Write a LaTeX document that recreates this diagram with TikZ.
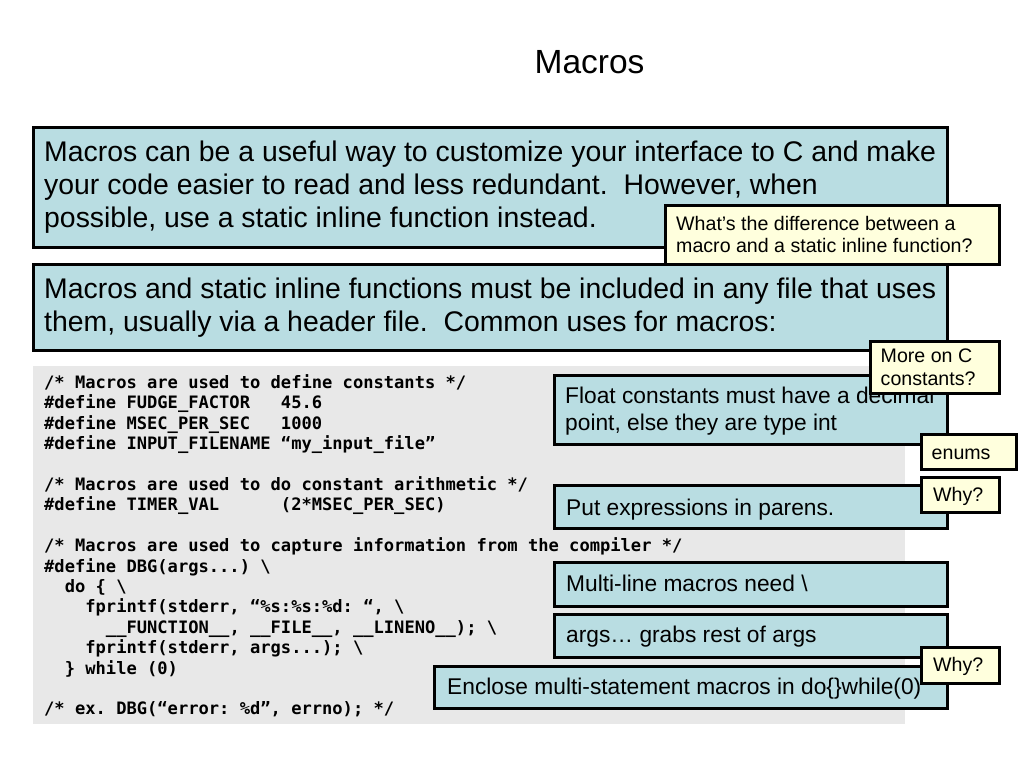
\documentclass[tikz,border=0pt]{standalone}
\usepackage{fontspec}
\setmainfont{Liberation Sans}
\newfontfamily\codefont{DejaVu Sans Mono}
\definecolor{boxblue}{RGB}{185,221,226}
\definecolor{noteyellow}{RGB}{255,255,221}
\definecolor{codegray}{RGB}{232,232,232}
\begin{document}
\begin{tikzpicture}[x=1pt,y=-1pt,
  panel/.style={anchor=north west, inner sep=0pt, outer sep=0pt},
  bluebox/.style={panel, draw=black, line width=3pt, fill=boxblue},
  notebox/.style={panel, draw=black, line width=3pt, fill=noteyellow},
  codebg/.style={panel, fill=codegray},
  titletext/.style={anchor=base, inner sep=0pt, font=\fontsize{33.5}{40}\selectfont},
  bigtext/.style={anchor=base west, inner sep=0pt, font=\fontsize{28.4}{33}\selectfont},
  midtext/.style={anchor=base west, inner sep=0pt, font=\fontsize{22.75}{27}\selectfont},
  smalltext/.style={anchor=base west, inner sep=0pt, font=\fontsize{19.6}{23}\selectfont},
  codeline/.style={anchor=base west, inner sep=0pt, font=\codefont\bfseries\fontsize{17.1}{20.4}\selectfont\frenchspacing}]
\useasboundingbox (0,0) rectangle (1024,768);

\node[titletext] (title) at (589.5,74) {Macros};

% top explanation boxes
\node[bluebox, minimum width=914, minimum height=120] (b1) at (33,127) {};
\node[bigtext] (b1a) at (44,161.5) {Macros can be a useful way to customize your interface to C and make};
\node[bigtext] (b1b) at (44,194.5) {your code easier to read and less redundant.\ \ However, when};
\node[bigtext] (b1c) at (44,227.5) {possible, use a static inline function instead.};

\node[bluebox, minimum width=914, minimum height=86] (b2) at (33,264) {};
\node[bigtext] (b2a) at (44,298.5) {Macros and static inline functions must be included in any file that uses};
\node[bigtext] (b2b) at (44,331.5) {them, usually via a header file.\ \ Common uses for macros:};

\node[notebox, minimum width=334, minimum height=59] (n1) at (665,205) {};
\node[smalltext] (n1a) at (676,230) {What’s the difference between a};
\node[smalltext] (n1b) at (676,252.5) {macro and a static inline function?};

% code panel
\node[codebg, minimum width=872, minimum height=358] (code) at (33,366) {};
\node[codeline] (c1)  at (44,388.5) {/* Macros are used to define constants */};
\node[codeline] (c2)  at (44,408.9) {\#define FUDGE\_FACTOR~~~45.6};
\node[codeline] (c3)  at (44,429.3) {\#define MSEC\_PER\_SEC~~~1000};
\node[codeline] (c4)  at (44,449.7) {\#define INPUT\_FILENAME~“my\_input\_file”};
\node[codeline] (c6)  at (44,490.5) {/* Macros are used to do constant arithmetic */};
\node[codeline] (c7)  at (44,510.9) {\#define TIMER\_VAL~~~~~~(2*MSEC\_PER\_SEC)};
\node[codeline] (c9)  at (44,551.7) {/* Macros are used to capture information from the compiler */};
\node[codeline] (c10) at (44,572.1) {\#define DBG(args...) \textbackslash};
\node[codeline] (c11) at (44,592.5) {~~do \{ \textbackslash};
\node[codeline] (c12) at (44,612.9) {~~~~fprintf(stderr, “\%s:\%s:\%d: “, \textbackslash};
\node[codeline] (c13) at (44,633.3) {~~~~~~\_\_FUNCTION\_\_, \_\_FILE\_\_, \_\_LINENO\_\_); \textbackslash};
\node[codeline] (c14) at (44,653.7) {~~~~fprintf(stderr, args...); \textbackslash};
\node[codeline] (c15) at (44,674.1) {~~\} while (0)};
\node[codeline] (c17) at (44,714.9) {/* ex. DBG(“error: \%d”, errno); */};

% callouts
\node[bluebox, minimum width=393, minimum height=69] (fl) at (554,375) {};
\node[midtext] (fla) at (565,403.5) {Float constants must have a decimal};
\node[midtext] (flb) at (565,430) {point, else they are type int};

\node[notebox, minimum width=129, minimum height=52] (mc) at (870,341) {};
\node[smalltext] (mca) at (880.5,362) {More on C};
\node[smalltext] (mcb) at (880.5,385) {constants?};

\node[notebox, minimum width=95, minimum height=35] (en) at (921,434) {};
\node[smalltext] (ena) at (931.5,459) {enums};

\node[bluebox, minimum width=393, minimum height=43] (pe) at (554,485) {};
\node[midtext] (pea) at (566,515) {Put expressions in parens.};

\node[notebox, minimum width=78, minimum height=35] (w1) at (921,477) {};
\node[smalltext] (w1a) at (933,501) {Why?};

\node[bluebox, minimum width=393, minimum height=44] (ml) at (554,562) {};
\node[midtext] (mla) at (566,591) {Multi-line macros need \textbackslash};

\node[bluebox, minimum width=393, minimum height=43] (ar) at (554,614) {};
\node[midtext] (ara) at (566,642) {args… grabs rest of args};

\node[bluebox, minimum width=513, minimum height=42] (ec) at (434,666) {};
\node[midtext] (eca) at (447,694) {Enclose multi-statement macros in do\{\}while(0)};

\node[notebox, minimum width=78, minimum height=36] (w2) at (921,647) {};
\node[smalltext] (w2a) at (933,671) {Why?};
\end{tikzpicture}
\end{document}
